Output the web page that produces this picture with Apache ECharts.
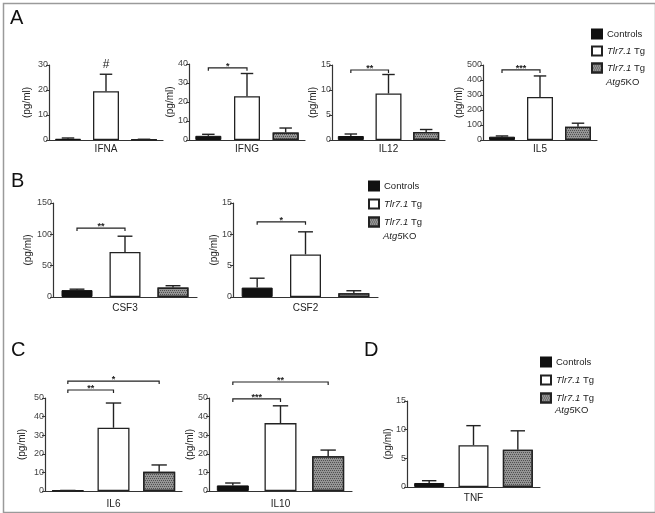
<!DOCTYPE html>
<html><head><meta charset="utf-8">
<script src="https://cdn.jsdelivr.net/npm/echarts@6/dist/echarts.min.js"></script>
<style>html,body{margin:0;padding:0;background:#fff}#c{width:655px;height:513px}</style>
</head><body><div id="c"></div>
<script>
const groups = ['Controls', 'Tlr7.1 Tg', 'Tlr7.1 Tg Atg5 KO'];

// bar heights (mean) and top of error bar (mean + error)
const ifnaMean = [0.5, 19.5, 0.2];  const ifnaErr = [0.8, 26.3, 0.3];
const ifngMean = [2.2, 23.0, 4.0];  const ifngErr = [3.0, 35.0, 6.3];
const il12Mean = [0.8, 9.3, 1.6];   const il12Err = [1.2, 13.1, 2.1];
const il5Mean  = [22, 287, 88];     const il5Err  = [27, 427, 112];
const csf3Mean = [11, 72, 15];      const csf3Err = [12.5, 97, 18];
const csf2Mean = [1.5, 6.8, 0.6];   const csf2Err = [3.0, 10.4, 1.0];
const il6Mean  = [0.3, 34, 10.3];   const il6Err  = [0.3, 47.3, 14];
const il10Mean = [3, 36.5, 18.7];   const il10Err = [4.3, 45.8, 22];
const tnfMean  = [0.7, 7.3, 6.5];   const tnfErr  = [1.1, 10.7, 9.8];

// y-axis tick values
const ifnaTicks = [0, 10, 20, 30];
const ifngTicks = [0, 10, 20, 30, 40];
const il12Ticks = [0, 5, 10, 15];
const il5Ticks  = [0, 100, 200, 300, 400, 500];
const csf3Ticks = [0, 50, 100, 150];
const csf2Ticks = [0, 5, 10, 15];
const il6Ticks  = [0, 10, 20, 30, 40, 50];
const il10Ticks = [0, 10, 20, 30, 40, 50];
const tnfTicks  = [0, 5, 10, 15];

// significance marks: [from group, to group, level, label]
const ifnaSig = [[1, 1, 27.6, '#']];
const ifngSig = [[0, 1, 38, '*']];
const il12Sig = [[0, 1, 14, '**']];
const il5Sig  = [[0, 1, 467, '***']];
const csf3Sig = [[0, 1, 110, '**']];
const csf2Sig = [[0, 1, 12, '*']];
const il6Sig  = [[0, 1, 54.3, '**'], [0, 2, 59.1, '*']];
const il10Sig = [[0, 1, 49.5, '***'], [0, 2, 58.6, '**']];
const tnfSig  = [];

const FONT = "'Liberation Sans', Arial, sans-serif";
const panels = [
  {name:'IFNA', mean:ifnaMean, err:ifnaErr, ticks:ifnaTicks, sig:ifnaSig, left:49,  top:65,  w:114, h:75, bw:26, ygap:17, xgap:4},
  {name:'IFNG', mean:ifngMean, err:ifngErr, ticks:ifngTicks, sig:ifngSig, left:189, top:64,  w:116, h:76, bw:26, ygap:14, xgap:4},
  {name:'IL12', mean:il12Mean, err:il12Err, ticks:il12Ticks, sig:il12Sig, left:332, top:65,  w:113, h:75, bw:26, ygap:14, xgap:4},
  {name:'IL5',  mean:il5Mean,  err:il5Err,  ticks:il5Ticks,  sig:il5Sig,  left:483, top:65,  w:114, h:75, bw:26, ygap:19, xgap:4},
  {name:'CSF3', mean:csf3Mean, err:csf3Err, ticks:csf3Ticks, sig:csf3Sig, left:53,  top:203, w:144, h:94, bw:31, ygap:20, xgap:6},
  {name:'CSF2', mean:csf2Mean, err:csf2Err, ticks:csf2Ticks, sig:csf2Sig, left:233, top:203, w:145, h:94, bw:31, ygap:14, xgap:6},
  {name:'IL6',  mean:il6Mean,  err:il6Err,  ticks:il6Ticks,  sig:il6Sig,  left:45,  top:398, w:137, h:93, bw:32, ygap:18, xgap:8},
  {name:'IL10', mean:il10Mean, err:il10Err, ticks:il10Ticks, sig:il10Sig, left:209, top:398, w:143, h:93, bw:32, ygap:14, xgap:8},
  {name:'TNF',  mean:tnfMean,  err:tnfErr,  ticks:tnfTicks,  sig:tnfSig,  left:407, top:401, w:133, h:86, bw:30, ygap:14, xgap:6}
];

const AX = '#333';
const groupStyles = [
  {color:'#111', borderColor:'#111', borderWidth:1},
  {color:'#fff', borderColor:'#222', borderWidth:1.3},
  {color:'#959595', borderColor:'#222', borderWidth:1.3,
   decal:{symbol:'rect', symbolSize:1, color:'#505050', dashArrayX:[[1,1],[0,1,1,0]], dashArrayY:[1,1], rotation:0}}
];

const grid = [], xAxis = [], yAxis = [], series = [];
panels.forEach((p, i) => {
  grid.push({left:p.left, top:p.top, width:p.w, height:p.h, containLabel:false});
  xAxis.push({gridIndex:i, type:'category', data:groups,
    axisLabel:{show:false}, axisTick:{show:false},
    axisLine:{lineStyle:{color:AX, width:1.2}},
    name:p.name, nameLocation:'middle', nameGap:p.xgap, nameMoveOverlap:false,
    nameTextStyle:{fontSize:10, color:'#222', fontFamily:FONT, verticalAlign:'top'}});
  const t = p.ticks;
  yAxis.push({gridIndex:i, type:'value', min:t[0], max:t[t.length-1], interval:t[1]-t[0],
    splitLine:{show:false},
    axisLine:{show:true, lineStyle:{color:AX, width:1.2}},
    axisTick:{show:true, length:3, lineStyle:{color:AX, width:1}},
    axisLabel:{fontSize:9, color:'#444', margin:1, fontFamily:FONT},
    name:'(pg/ml)', nameLocation:'middle', nameGap:p.ygap, nameMoveOverlap:false,
    nameTextStyle:{fontSize:10, color:'#222', fontFamily:FONT}});
  groups.forEach((g, k) => {
    series.push({type:'bar', name:g, xAxisIndex:i, yAxisIndex:i,
      data:p.mean.map((v, j) => j === k ? v : '-'),
      barWidth:p.bw, barGap:'-100%', itemStyle:groupStyles[k],
      emphasis:{disabled:true}, silent:true, z:2});
  });
  const bw = p.bw;
  series.push({type:'custom', xAxisIndex:i, yAxisIndex:i, silent:true, clip:false, z:3,
    data:p.mean.map((m, k) => [k, m, p.err[k]]),
    encode:{x:0, y:[1, 2]},
    renderItem:(params, api) => {
      const a = api.coord([api.value(0), api.value(1)]);
      const b = api.coord([api.value(0), api.value(2)]);
      const c = bw * 0.24;
      const st = {stroke:'#222', lineWidth:1.4};
      return {type:'group', children:[
        {type:'line', shape:{x1:a[0], y1:a[1], x2:b[0], y2:b[1]}, style:st},
        {type:'line', shape:{x1:b[0]-c, y1:b[1], x2:b[0]+c, y2:b[1]}, style:st}
      ]};
    }});
  if (p.sig.length) {
    const sig = p.sig;
    series.push({type:'custom', xAxisIndex:i, yAxisIndex:i, silent:true, clip:false, z:3,
      data:sig.map(s => [s[0], s[1], s[2]]),
      encode:{x:[0, 1], y:2},
      renderItem:(params, api) => {
        const s = sig[params.dataIndex];
        const a = api.coord([api.value(0), api.value(2)]);
        const b = api.coord([api.value(1), api.value(2)]);
        const kids = [];
        const isHash = s[3] === '#';
        if (!isHash) {
          kids.push({type:'polyline', shape:{points:[[a[0], a[1]+3], [a[0], a[1]], [b[0], b[1]], [b[0], b[1]+3]]},
            style:{stroke:'#222', lineWidth:1.2, fill:null}});
        }
        kids.push({type:'text', x:(a[0]+b[0])/2, y:isHash ? a[1] : a[1]+3,
          style:{text:s[3], fill:'#222', font:(isHash ? '12px ' : 'bold 9px ') + FONT,
            align:'center', verticalAlign:'bottom'}});
        return {type:'group', children:kids};
      }});
  }
});

const legendBase = {
  orient:'vertical', icon:'rect', itemWidth:10, itemHeight:9, itemGap:5, padding:0,
  selectedMode:false, data:groups,
  formatter:n => n === 'Controls' ? n : '{i|Tlr7.1} Tg',
  textStyle:{fontSize:9.5, color:'#222', fontFamily:FONT, lineHeight:12,
    rich:{i:{fontStyle:'italic', fontSize:9.5, color:'#222', fontFamily:FONT}}}
};
const legend = [
  Object.assign({}, legendBase, {left:591, top:28}),
  Object.assign({}, legendBase, {left:368, top:180, itemGap:6}),
  Object.assign({}, legendBase, {left:540, top:356, itemGap:6})
];

function atgText(x, y) {
  return {type:'text', left:x, top:y, style:{text:'{i|Atg5}KO', font:'9.5px ' + FONT, fill:'#222',
    rich:{i:{fontStyle:'italic', fontSize:9.5, fill:'#222', fontFamily:FONT}}}};
}
function letter(t, x, y) {
  return {type:'text', left:x, top:y, style:{text:t, font:'20px ' + FONT, fill:'#111'}};
}

const graphic = [
  {type:'rect', left:1, top:1, shape:{width:652, height:509}, style:{fill:null, stroke:'#9a9a9a', lineWidth:1.5}, z:0},
  letter('A', 10, 8), letter('B', 11, 171), letter('C', 11, 340), letter('D', 364, 340),
  atgText(606, 77), atgText(383, 231), atgText(555, 405)
];

const chart = echarts.init(document.getElementById('c'), null, {renderer:'canvas'});
chart.setOption({animation:false, backgroundColor:'#fff', grid, xAxis, yAxis, series, legend, graphic});
</script></body></html>
